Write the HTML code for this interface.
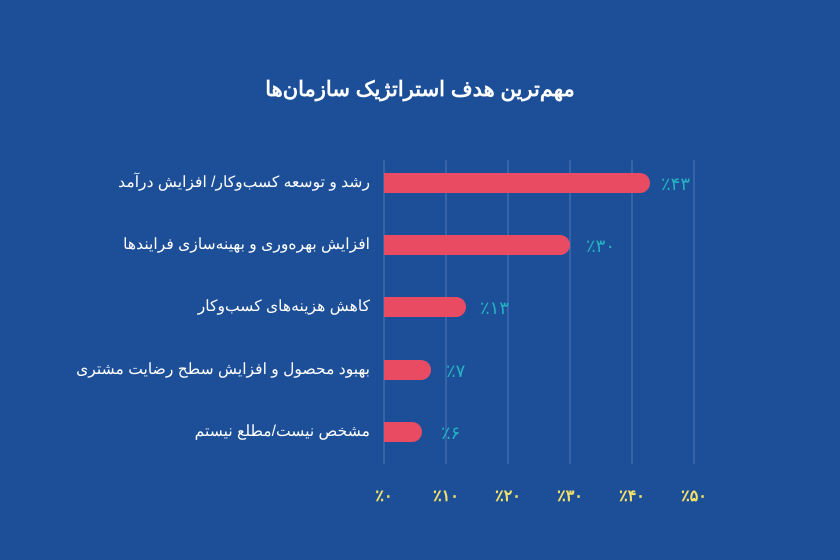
<!DOCTYPE html>
<html><head><meta charset="utf-8"><style>
body{margin:0;width:840px;height:560px;background:#1c4f98;overflow:hidden;font-family:"Liberation Sans","Noto Sans CJK SC",sans-serif;position:relative}
svg{display:block;position:absolute;left:0;top:0}
.l{position:absolute;right:470px;direction:rtl;text-align:right;color:#fff;font-size:15.6px;white-space:nowrap;line-height:20px}
.t{position:absolute;left:0;width:840px;top:77px;text-align:center;direction:rtl;color:#fff;font-size:21px;font-weight:bold}
</style></head><body>
<svg width="840" height="560" xmlns="http://www.w3.org/2000/svg">
<rect width="840" height="560" fill="#1c4f98"/>
<g stroke="#4f78b8" stroke-width="1">
<line x1="384" y1="160" x2="384" y2="464"/><line x1="446" y1="160" x2="446" y2="464"/><line x1="508" y1="160" x2="508" y2="464"/><line x1="570" y1="160" x2="570" y2="464"/><line x1="632" y1="160" x2="632" y2="464"/><line x1="694" y1="160" x2="694" y2="464"/>
</g>
<g fill="#e94c62">
<path d="M384 173H640a10 10 0 0 1 0 20H384Z"/>
<path d="M384 235H560a10 10 0 0 1 0 20H384Z"/>
<path d="M384 297H456a10 10 0 0 1 0 20H384Z"/>
<path d="M384 360H421a10 10 0 0 1 0 20H384Z"/>
<path d="M384 422H412a10 10 0 0 1 0 20H384Z"/>
</g>
<g fill="#25b3c2" font-size="18" font-family="Liberation Sans, sans-serif">
<text x="661" y="190">٪۴۳</text>
<text x="586" y="252">٪۳۰</text>
<text x="480" y="314">٪۱۳</text>
<text x="446" y="377">٪۷</text>
<text x="441" y="439">٪۶</text>
</g>
<g fill="#f2e06a" font-size="16" font-weight="bold" text-anchor="middle" font-family="Liberation Sans, sans-serif">
<text x="384" y="501">٪۰</text><text x="446" y="501">٪۱۰</text><text x="508" y="501">٪۲۰</text><text x="570" y="501">٪۳۰</text><text x="632" y="501">٪۴۰</text><text x="694" y="501">٪۵۰</text>
</g>
</svg>
<div class="t">مهم‌ترین هدف استراتژیک سازمان‌ها</div>
<div class="l" style="top:173px">رشد و توسعه کسب‌وکار/ افزایش درآمد</div>
<div class="l" style="top:235px">افزایش بهره‌وری و بهینه‌سازی فرایندها</div>
<div class="l" style="top:297px">کاهش هزینه‌های کسب‌وکار</div>
<div class="l" style="top:360px">بهبود محصول و افزایش سطح رضایت مشتری</div>
<div class="l" style="top:422px">مشخص نیست/مطلع نیستم</div>
</body></html>
